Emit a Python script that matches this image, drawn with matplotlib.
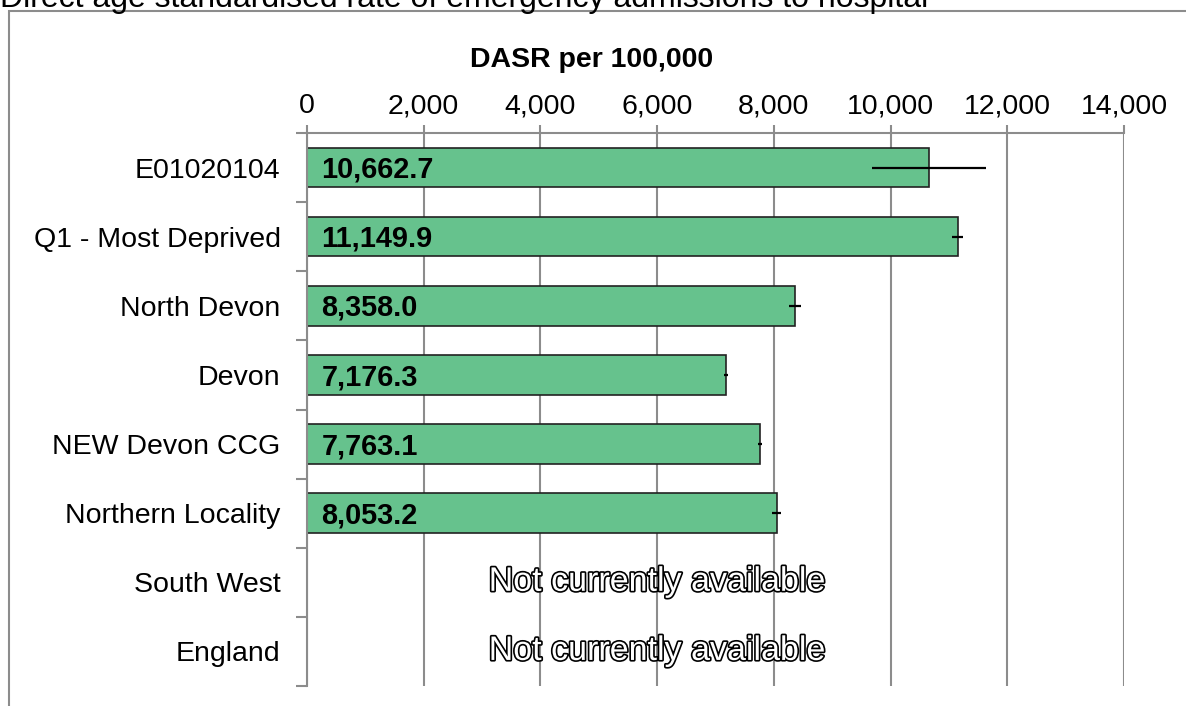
import numpy as np
import matplotlib.pyplot as plt
import matplotlib.patheffects as pe
from matplotlib.patches import Rectangle
from matplotlib.ticker import FuncFormatter

plt.rcParams['font.family'] = ['Liberation Sans', 'DejaVu Sans']

categories = ['E01020104', 'Q1 - Most Deprived', 'North Devon', 'Devon',
              'NEW Devon CCG', 'Northern Locality', 'South West', 'England']
values = [10662.7, 11149.9, 8358.0, 7176.3, 7763.1, 8053.2, np.nan, np.nan]
ci_lower = [9690, 11047, 8259, 7146, 7733, 7975, np.nan, np.nan]
ci_upper = [11635, 11246, 8460, 7209, 7797, 8122, np.nan, np.nan]
x_ticks = [0, 2000, 4000, 6000, 8000, 10000, 12000, 14000]

fig = plt.figure(figsize=(11.86, 7.06), dpi=100)
ax = fig.add_axes([307 / 1186, 1 - 686 / 706, 817 / 1186, 553 / 706])

y = np.arange(len(categories))
vals = np.array(values)
err = np.array([vals - np.array(ci_lower), np.array(ci_upper) - vals])
ok = ~np.isnan(vals)

ax.barh(y[ok], vals[ok], height=0.57, color='#66c28d', edgecolor='#222222',
        linewidth=1.2, zorder=2)
ax.errorbar(vals[ok], y[ok], xerr=err[:, ok], fmt='none', ecolor='black',
            elinewidth=1.6, capsize=0, zorder=3)

for i, v in enumerate(values):
    if np.isnan(v):
        t = ax.text(6000, i, 'Not currently available', ha='center', va='center',
                    fontsize=24.5, color='white', zorder=4)
        t.set_path_effects([pe.withStroke(linewidth=2.4, foreground='black')])
    else:
        ax.text(250, i + 0.03, f'{v:,.1f}', ha='left', va='center',
                fontsize=20.8, fontweight='bold', color='black', zorder=4)

ax.set_xlim(0, 14000)
ax.set_ylim(len(categories) - 0.5, -0.5)
ax.set_xticks(x_ticks)
ax.xaxis.set_major_formatter(FuncFormatter(lambda v, p: f'{v:,.0f}'))
ax.xaxis.tick_top()
ax.tick_params(axis='x', length=6, color='#8c8c8c', width=1.5, labelsize=20.5, pad=4)
ax.grid(axis='x', color='#8c8c8c', linewidth=1.5, zorder=0)

ax.set_yticks(y)
ax.set_yticklabels(categories)
ax.set_yticks(np.arange(len(categories) + 1) - 0.5, minor=True)
ax.tick_params(axis='y', which='major', length=0, labelsize=20.5, pad=19)
ax.tick_params(axis='y', which='minor', length=8, color='#8c8c8c', width=1.5)

for s in ['right', 'bottom']:
    ax.spines[s].set_visible(False)
for s in ['left', 'top']:
    ax.spines[s].set_color('#8c8c8c')
    ax.spines[s].set_linewidth(1.5)

fig.text(592 / 1186, 1 - 60 / 706, 'DASR per 100,000', ha='center', va='center',
         fontsize=20.5, fontweight='bold')
fig.text(0.0, 1 - 7 / 706, 'Direct age standardised rate of emergency admissions to hospital',
         ha='left', va='baseline', fontsize=23)

fig.patches.append(Rectangle((9 / 1186, -0.1), 1.2, 1 - 11 / 706 + 0.1,
                             transform=fig.transFigure, fill=False,
                             edgecolor='#8c8c8c', linewidth=1.5))

fig.savefig('out.png', dpi=100)
